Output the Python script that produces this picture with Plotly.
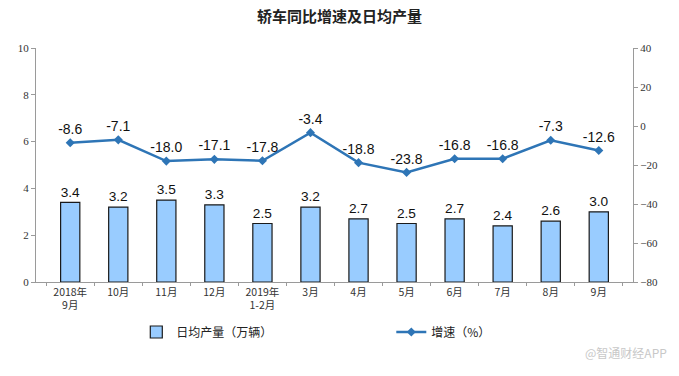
import plotly.graph_objects as go

categories = ["2018年<br>9月", "10月", "11月", "12月", "2019年<br>1-2月", "3月",
              "4月", "5月", "6月", "7月", "8月", "9月"]
daily_output = [3.4, 3.2, 3.5, 3.3, 2.5, 3.2, 2.7, 2.5, 2.7, 2.4, 2.6, 3.0]
growth = [-8.6, -7.1, -18.0, -17.1, -17.8, -3.4, -18.8, -23.8, -16.8, -16.8, -7.3, -12.6]

fig = go.Figure()
fig.add_trace(go.Bar(
    x=categories, y=daily_output, name="日均产量（万辆）",
    marker=dict(color="#99CCFF", line=dict(color="#1a1a1a", width=1.2)),
    text=[f"{v:.1f}" for v in daily_output], textposition="outside",
    textfont=dict(family="Liberation Sans, Arial", size=14, color="#111"),
    cliponaxis=False,
))
fig.add_trace(go.Scatter(
    x=categories, y=growth, name="增速（%）", yaxis="y2",
    mode="lines+markers+text",
    line=dict(color="#2E75B6", width=2.5),
    marker=dict(symbol="diamond", size=7, color="#2E75B6"),
    text=[f"{v:.1f}" for v in growth], textposition="top center",
    textfont=dict(family="Liberation Sans, Arial", size=14, color="#111"),
    cliponaxis=False,
))

axis_font = dict(family="Liberation Serif, Noto Sans CJK SC", size=11, color="#333")
fig.update_layout(
    width=679, height=376,
    margin=dict(l=36, r=46, t=48, b=94, autoexpand=False),
    paper_bgcolor="white", plot_bgcolor="white",
    title=dict(text="<b>轿车同比增速及日均产量</b>", x=0.5, xanchor="center",
               yref="container", y=0.955, yanchor="middle",
               font=dict(family="Noto Sans CJK SC", size=15, color="#222")),
    bargap=0.6,
    showlegend=True,
    legend=dict(orientation="h", x=0.168, xanchor="left",
                yref="container", y=0.117, yanchor="middle",
                entrywidth=210, entrywidthmode="pixels",
                font=dict(family="Noto Sans CJK SC", size=12, color="#222")),
    xaxis=dict(showline=True, linecolor="#9a9a9a", linewidth=1, ticks="outside",
               tickson="boundaries", ticklen=3, tickcolor="#9a9a9a", automargin=False,
               tickfont=dict(family="Noto Sans CJK SC", size=10.5, color="#333"),
               showgrid=False),
    yaxis=dict(range=[0, 10], dtick=2, showline=True, linecolor="#9a9a9a", ticks="outside",
               ticklen=4, tickcolor="#9a9a9a", showgrid=False, zeroline=False,
               automargin=False, tickfont=axis_font),
    yaxis2=dict(range=[-80, 40], dtick=20, overlaying="y", side="right", showline=True,
                linecolor="#9a9a9a", ticks="outside", ticklen=4, tickcolor="#9a9a9a",
                showgrid=False, zeroline=False, automargin=False, tickfont=axis_font),
    annotations=[dict(text="@智通财经APP", xref="paper", yref="paper", x=1.06, y=-0.3,
                      xanchor="right", yanchor="middle", showarrow=False,
                      font=dict(family="Noto Sans CJK SC", size=12, color="#c8c8c8"))],
)
fig.write_html("out.html", config={"displayModeBar": False},
               post_script="document.body.style.margin='0';")
